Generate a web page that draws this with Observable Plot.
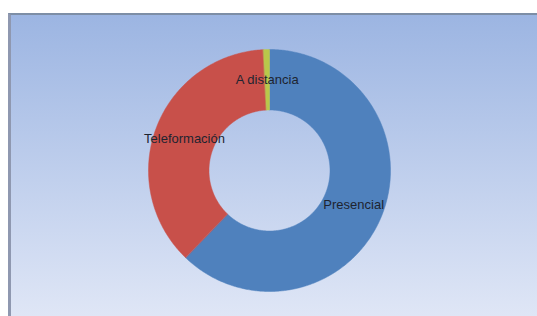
<!DOCTYPE html>
<html><head><meta charset="utf-8">
<script src="https://cdn.jsdelivr.net/npm/d3@7"></script>
<script src="https://cdn.jsdelivr.net/npm/@observablehq/plot@0.6"></script>
<style>
html,body{margin:0;padding:0;background:#fff;}
#wrap{position:relative;width:537px;height:316px;overflow:hidden;}
#bg{position:absolute;left:8px;top:13px;width:529px;height:303px;background:linear-gradient(#9cb5e2,#dfe6f6);border-top:2px solid #7d8ea6;border-left:3px solid #8f98b0;box-sizing:border-box;}
#chart{position:absolute;left:0;top:0;}
</style></head><body>
<div id="wrap"><div id="bg"></div><div id="chart"></div></div>
<script>
const categories = ["Presencial", "Teleformación", "A distancia"];
const values = [62.2, 37.0, 0.8];
const colors = ["#4f81bd", "#c8504a", "#b9c84a"];
const innerRatio = 0.5;

const data = categories.map((c, i) => ({cat: c, value: values[i]}));
const arcs = d3.pie().sort(null).value(d => d.value)(data);

// build slice polygons in unit coordinates (angle clockwise from north)
const pts = [];
for (const a of arcs) {
  const n = Math.max(2, Math.ceil((a.endAngle - a.startAngle) / 0.01));
  for (let k = 0; k <= n; k++) {
    const t = a.startAngle + (a.endAngle - a.startAngle) * k / n;
    pts.push({cat: a.data.cat, x: Math.sin(t), y: Math.cos(t)});
  }
  for (let k = n; k >= 0; k--) {
    const t = a.startAngle + (a.endAngle - a.startAngle) * k / n;
    pts.push({cat: a.data.cat, x: innerRatio * Math.sin(t), y: innerRatio * Math.cos(t)});
  }
}
const labelR = (1 + innerRatio) / 2;
const labels = arcs.map(a => {
  const m = (a.startAngle + a.endAngle) / 2;
  return {cat: a.data.cat, x: labelR * Math.sin(m), y: labelR * Math.cos(m)};
});

const chart = Plot.plot({
  width: 537,
  height: 316,
  margin: 0,
  style: {background: "transparent", overflow: "visible"},
  x: {domain: [-1, 1], range: [148, 390], axis: null},
  y: {domain: [-1, 1], range: [291, 49], axis: null},
  color: {domain: categories, range: colors},
  marks: [
    Plot.line(pts, {x: "x", y: "y", z: "cat", fill: "cat", stroke: "cat", strokeWidth: 0.5, curve: "linear-closed"}),
    Plot.text(labels, {x: "x", y: "y", text: "cat", fill: "#1e2430", fontSize: 13, fontFamily: "Liberation Sans"})
  ]
});
document.getElementById("chart").appendChild(chart);
</script>
</body></html>
